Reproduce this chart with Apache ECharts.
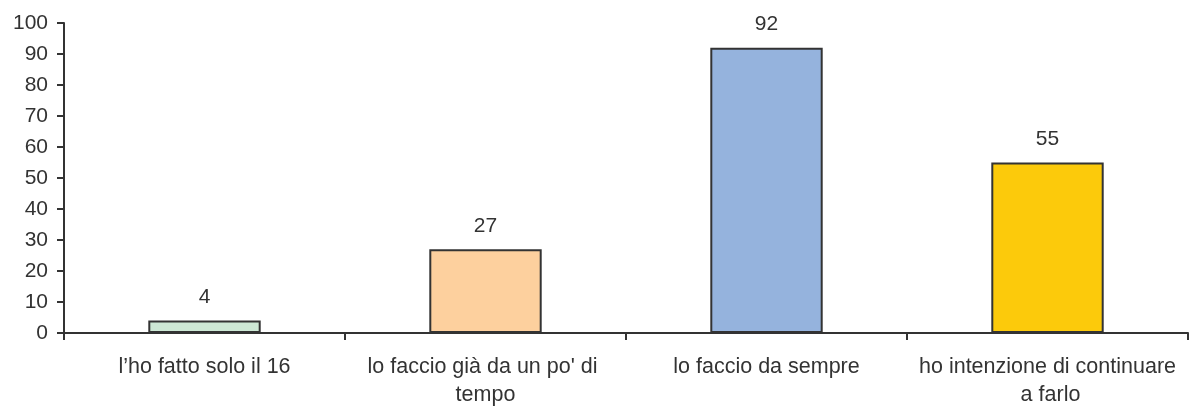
<!DOCTYPE html>
<html>
<head>
<meta charset="utf-8">
<script src="https://cdn.jsdelivr.net/npm/echarts@6/dist/echarts.min.js"></script>
<style>
html,body{margin:0;padding:0;background:#fff;}
#chart{width:1192px;height:406px;}
</style>
</head>
<body>
<div id="chart"></div>
<script>
var categories = ["l\u2019ho fatto solo il 16", "lo faccio già da un po' di tempo", "lo faccio da sempre", "ho intenzione di continuare a farlo"];
var values = [4, 27, 92, 55];
var barColors = ['#cde8d5', '#fdd09e', '#95b3dd', '#fcca0b'];

var myChart = echarts.init(document.getElementById('chart'));

var font = 'Liberation Sans, Arial, sans-serif';

myChart.setOption({
	animation: false,
	grid: { left: 64, right: 4, top: 23, bottom: 73, containLabel: false, outerBoundsMode: 'none' },
	xAxis: {
		type: 'category',
		data: categories,
		axisLine: { lineStyle: { color: '#333', width: 2 } },
		axisTick: { show: true, length: 7, alignWithLabel: false, lineStyle: { color: '#333', width: 2 } },
		axisLabel: {
			interval: 0, margin: 20, color: '#333', fontSize: 21.5,
			fontFamily: font,
			width: 262, overflow: 'break', lineHeight: 28
		}
	},
	yAxis: {
		type: 'value',
		min: 0, max: 100, interval: 10,
		splitLine: { show: false },
		axisLine: { show: true, lineStyle: { color: '#333', width: 2 } },
		axisTick: { show: true, length: 7, lineStyle: { color: '#333', width: 2 } },
		axisLabel: { margin: 16, color: '#333', fontSize: 21, fontFamily: font }
	},
	series: [{
		type: 'bar',
		barWidth: '40%',
		data: values.map(function(v, i){
			return { value: v, itemStyle: { color: barColors[i] } };
		}),
		itemStyle: { borderColor: '#333', borderWidth: 2 },
		label: {
			show: true, position: 'top', distance: 13,
			color: '#333', fontSize: 21, fontFamily: font
		}
	}]
});
</script>
</body>
</html>
